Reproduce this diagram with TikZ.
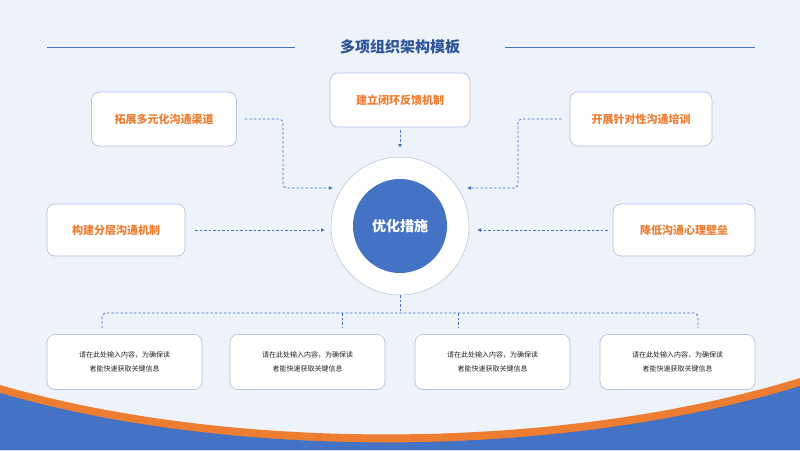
\documentclass[tikz,border=0pt]{standalone}
\usepackage{fontspec}
\setmainfont{Liberation Serif}
\newfontfamily\cjk{Noto Sans CJK SC}
\usetikzlibrary{arrows.meta}
\definecolor{bgc}{HTML}{EEF2F9}
\definecolor{blu}{HTML}{4472C4}
\definecolor{ora}{HTML}{ED7D31}
\definecolor{bord}{HTML}{B4C3DE}
\definecolor{ttl}{HTML}{2F5597}
\tikzset{
 box/.style={draw=bord,line width=0.7pt,fill=white,rounded corners=8pt,minimum height=54pt,align=center},
 otext/.style={text=ora,font=\cjk\bfseries\fontsize{11}{13}\selectfont},
 stext/.style={font=\cjk\fontsize{7}{14}\selectfont,text=black!85},
 con/.style={draw=blu,dashed,line width=0.8pt,dash pattern=on 2.5pt off 2pt},
 arr/.style={con,-{Latex[length=4pt,width=4pt]}}
}
\begin{document}
\begin{tikzpicture}[x=1pt,y=-1pt]
\fill[bgc] (0,0) rectangle (800,450);
\useasboundingbox (0,0) rectangle (800,450);
% bottom wave
\fill[ora] (0,385) .. controls (230,452) and (560,452) .. (800,378) -- (800,450) -- (0,450) -- cycle;
\fill[blu] (0,393) .. controls (230,460) and (560,460) .. (800,386) -- (800,450) -- (0,450) -- cycle;
% title
\node[font=\cjk\bfseries\fontsize{15}{17}\selectfont,text=ttl] (title) at (400,47) {多项组织架构模板};
\draw[blu,line width=0.8pt] (47,47) -- (295,47) (505,47) -- (755,47);
% center
\node[circle,fill=white,draw=bord,line width=0.5pt,minimum size=138pt] (outer) at (400,226) {};
\node[circle,fill=blu,minimum size=94pt,text=white,font=\cjk\bfseries\fontsize{14}{16}\selectfont] (core) at (400,226) {优化措施};
% boxes
\node[box,minimum width=140pt] (t) at (400,100) {};
\node[otext] at (t) {建立闭环反馈机制};
\node[box,minimum width=145pt] (lt) at (164,119) {};
\node[otext] at (lt) {拓展多元化沟通渠道};
\node[box,minimum width=142pt] (rt) at (641,119) {};
\node[otext] at (rt) {开展针对性沟通培训};
\node[box,minimum width=138pt,minimum height=52pt] (lm) at (116,230) {};
\node[otext] at (lm) {构建分层沟通机制};
\node[box,minimum width=142pt,minimum height=52pt] (rm) at (684,230) {};
\node[otext] at (rm) {降低沟通心理壁垒};
\foreach \i/\x in {1/124.5,2/307.5,3/492.5,4/677.5}{
 \node[box,minimum width=155pt,minimum height=55pt] (b\i) at (\x,362) {};
 \node[stext,align=center] at (b\i) {请在此处输入内容，为确保读\\者能快速获取关键信息};
}
% connectors
\coordinate (ct) at (400,148);
\draw[arr] ([yshift=-3pt]t.south) -- (ct);
\coordinate (cl) at (333,188);
\coordinate (cr) at (467,188);
\draw[arr,rounded corners=4pt] ([xshift=8pt]lt.east) -| (283,188) -- (cl);
\draw[arr,rounded corners=4pt] ([xshift=-8pt]rt.west) -| (518,188) -- (cr);
\draw[arr] ([xshift=10pt]lm.east) -- (325,230);
\draw[arr] ([xshift=-5pt]rm.west) -- (477,230);
\draw[con] (outer.south) -- (400,313);
\draw[con,rounded corners=4pt] (102,328) |- (698,313) -- (698,328);
\draw[con] (342,313) -- (342,328) (458,313) -- (458,328);
\end{tikzpicture}
\end{document}
